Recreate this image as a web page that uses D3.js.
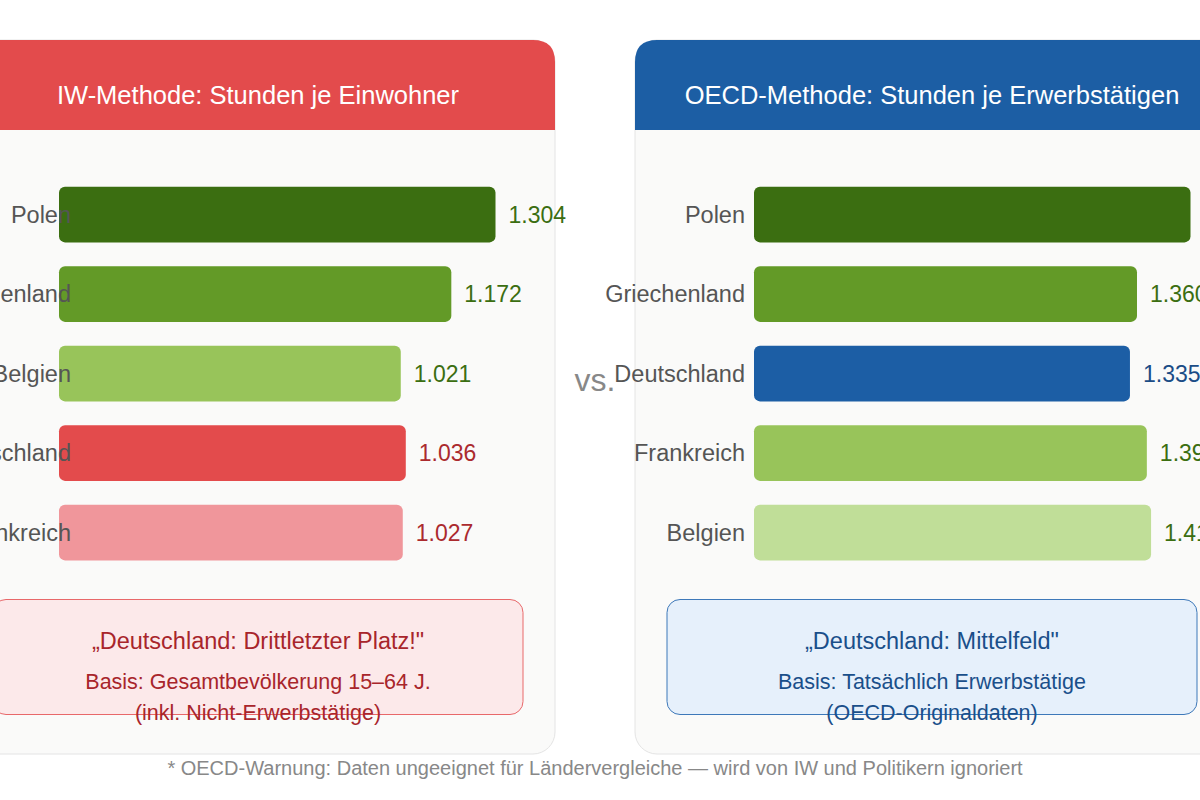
<!DOCTYPE html>
<html lang="de">
  <head>
    <meta charset="utf-8">
    <title>IW vs. OECD</title>
    <script src="https://cdn.jsdelivr.net/npm/d3@7"></script>
    <style>
      body { margin: 0; background: #fff; }
      svg { display: block; font-family: "Liberation Sans", Arial, sans-serif; }
    </style>
  </head>
  <body>
    <script>
      // data
      var iwCountries = ["Polen", "Griechenland", "Belgien", "Deutschland", "Frankreich"];
      var iwHours = [1304, 1172, 1021, 1036, 1027];
      var iwColors = ["#3b6e11", "#639a27", "#98c45a", "#e34b4c", "#f0969b"];
      var iwLabelColors = ["#3b6e11", "#3b6e11", "#3b6e11", "#ab2a2e", "#ab2a2e"];

      var oecdCountries = ["Polen", "Griechenland", "Deutschland", "Frankreich", "Belgien"];
      var oecdHours = [1550, 1360, 1335, 1395, 1410];
      var oecdColors = ["#3b6e11", "#639a27", "#1c5ea5", "#98c45a", "#c0de98"];
      var oecdLabelColors = ["#3b6e11", "#3b6e11", "#1b4c86", "#3b6e11", "#3b6e11"];

      var titles = ["IW-Methode: Stunden je Einwohner", "OECD-Methode: Stunden je Erwerbstätigen"];
      var boxLines = [
        ["\u201eDeutschland: Drittletzter Platz!\"", "Basis: Gesamtbevölkerung 15–64 J.", "(inkl. Nicht-Erwerbstätige)"],
        ["\u201eDeutschland: Mittelfeld\"", "Basis: Tatsächlich Erwerbstätige", "(OECD-Originaldaten)"]
      ];
      var footnote = "* OECD-Warnung: Daten ungeeignet für Ländervergleiche — wird von IW und Politikern ignoriert";

      var de = d3.formatLocale({decimal: ",", thousands: ".", grouping: [3], currency: ["", " €"]});
      var fmt = de.format(",");

      var svg = d3.select("body").append("svg")
          .attr("width", 1200)
          .attr("height", 800);

      function roundedTop(x, y, w, h, r) {
        return "M" + x + "," + (y + h) +
          "V" + (y + r) +
          "Q" + x + "," + y + " " + (x + r) + "," + y +
          "H" + (x + w - r) +
          "Q" + (x + w) + "," + y + " " + (x + w) + "," + (y + r) +
          "V" + (y + h) + "Z";
      }

      function drawPanel(p) {
        var g = svg.append("g").attr("transform", "translate(" + p.x + ",0)");
        var w = 594;

        // panel body
        g.append("rect")
          .attr("x", 0).attr("y", 40)
          .attr("width", w).attr("height", 714)
          .attr("rx", 22)
          .attr("fill", "#fafaf9")
          .attr("stroke", "#e4e4e4");

        // header
        g.append("path")
          .attr("d", roundedTop(0, 40, w, 90, 22))
          .attr("fill", p.header);

        g.append("text")
          .attr("x", w / 2).attr("y", 104)
          .attr("text-anchor", "middle")
          .attr("fill", "#fff")
          .attr("font-size", 25.5)
          .text(p.title);

        var y = d3.scaleBand()
            .domain(p.countries)
            .range([174.8, 572.3])
            .paddingInner(0.3)
            .paddingOuter(0.15);

        var x = d3.scaleLinear()
            .domain([0, d3.max(p.values)])
            .range([0, 436.5]);

        var rows = p.countries.map(function(c, i) {
          return {country: c, value: p.values[i], color: p.colors[i], label: p.labelColors[i]};
        });

        g.selectAll("rect.bar")
          .data(rows)
          .join("rect")
          .attr("class", "bar")
          .attr("x", p.barX)
          .attr("y", function(d) { return y(d.country); })
          .attr("width", function(d) { return x(d.value); })
          .attr("height", y.bandwidth())
          .attr("rx", 6)
          .attr("fill", function(d) { return d.color; });

        g.selectAll("text.country")
          .data(rows)
          .join("text")
          .attr("class", "country")
          .attr("x", 110)
          .attr("y", function(d) { return y(d.country) + y.bandwidth() / 2; })
          .attr("dy", "0.35em")
          .attr("text-anchor", "end")
          .attr("fill", "#555")
          .attr("font-size", 23.5)
          .text(function(d) { return d.country; });

        g.selectAll("text.value")
          .data(rows)
          .join("text")
          .attr("class", "value")
          .attr("x", function(d) { return p.barX + x(d.value) + 13; })
          .attr("y", function(d) { return y(d.country) + y.bandwidth() / 2; })
          .attr("dy", "0.35em")
          .attr("fill", function(d) { return d.label; })
          .attr("font-size", 23)
          .text(function(d) { return fmt(d.value); });

        // annotation box
        g.append("rect")
          .attr("x", 32).attr("y", 599.5)
          .attr("width", 530).attr("height", 115)
          .attr("rx", 13)
          .attr("fill", p.boxFill)
          .attr("stroke", p.boxStroke);

        var sizes = [23.5, 21.5, 21.5];
        var ys = [649, 689, 720];
        p.lines.forEach(function(t, i) {
          g.append("text")
            .attr("x", w / 2).attr("y", ys[i])
            .attr("text-anchor", "middle")
            .attr("fill", p.boxText)
            .attr("font-size", sizes[i])
            .text(t);
        });
      }

      drawPanel({
        x: -39, barX: 98, header: "#e34b4c", title: titles[0],
        countries: iwCountries, values: iwHours, colors: iwColors, labelColors: iwLabelColors,
        boxFill: "#fce9ea", boxStroke: "#e8686a", boxText: "#a8252b", lines: boxLines[0]
      });

      drawPanel({
        x: 635, barX: 119, header: "#1c5ea4", title: titles[1],
        countries: oecdCountries, values: oecdHours, colors: oecdColors, labelColors: oecdLabelColors,
        boxFill: "#e6f0fb", boxStroke: "#3d78b9", boxText: "#1a4f8a", lines: boxLines[1]
      });

      svg.append("text")
        .attr("x", 595).attr("y", 391)
        .attr("text-anchor", "middle")
        .attr("fill", "#888")
        .attr("font-size", 32)
        .text("vs.");

      svg.append("text")
        .attr("x", 595).attr("y", 775)
        .attr("text-anchor", "middle")
        .attr("fill", "#888")
        .attr("font-size", 20)
        .text(footnote);
    </script>
  </body>
</html>
